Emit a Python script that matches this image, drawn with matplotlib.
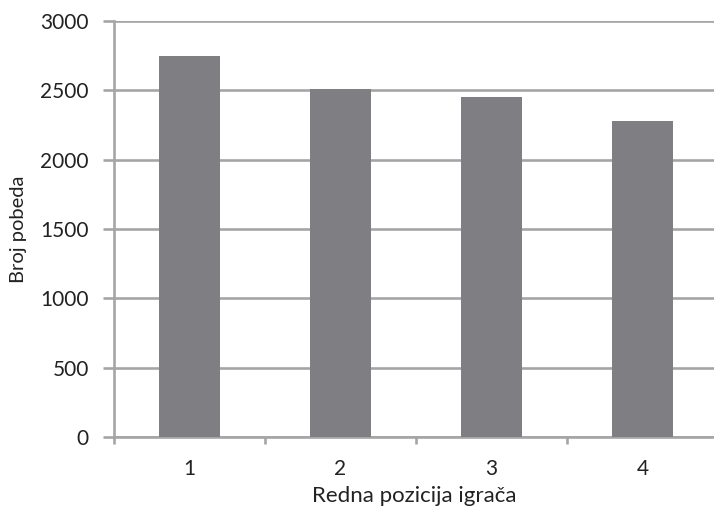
import numpy as np
from matplotlib import pyplot as plt

positions = [1, 2, 3, 4]
wins = [2745, 2510, 2455, 2280]
y_ticks = [0, 500, 1000, 1500, 2000, 2500, 3000]

GRID = '#a5a5a5'
BAR = '#7f7f83'
TEXT = '#222222'


def main():
    plt.rcParams['font.family'] = ['Lato', 'DejaVu Sans']
    fig = plt.figure(figsize=(7.14, 5.08), dpi=100)
    # axes box: left spine at x=114, baseline at y=437, top grid at y=21
    ax = fig.add_axes([114 / 714, 1 - 437 / 508, 600 / 714, 416 / 508])

    x_pos = np.array(positions)
    ax.bar(x_pos, wins, width=0.40, color=BAR, zorder=3)

    ax.set_xlim(0.5, 0.5 + 600 / 151)
    ax.set_ylim(0, 3000)
    ax.set_yticks(y_ticks)
    ax.set_yticklabels([str(v) for v in y_ticks])
    ax.set_xticks(x_pos)
    ax.set_xticklabels([str(p) for p in positions])
    ax.set_xticks(np.arange(0.5, 4.5, 1), minor=True)

    ax.yaxis.grid(True, color=GRID, linewidth=1.9, zorder=0)
    for s in ['top', 'right']:
        ax.spines[s].set_visible(False)
    for s in ['left', 'bottom']:
        ax.spines[s].set_color(GRID)
        ax.spines[s].set_linewidth(1.9)

    ax.tick_params(axis='y', length=8, width=1.9, color=GRID, pad=10,
                   labelsize=15, labelcolor=TEXT)
    ax.tick_params(axis='x', which='major', length=0, pad=16,
                   labelsize=15, labelcolor=TEXT)
    ax.tick_params(axis='x', which='minor', length=5, width=1.9, color=GRID)

    ax.set_xlabel('Redna pozicija igrača', fontsize=16, color=TEXT, labelpad=5)
    ax.set_ylabel('Broj pobeda', fontsize=14.5, color=TEXT, labelpad=10)

    plt.savefig('out.png', dpi=100)


if __name__ == '__main__':
    main()
